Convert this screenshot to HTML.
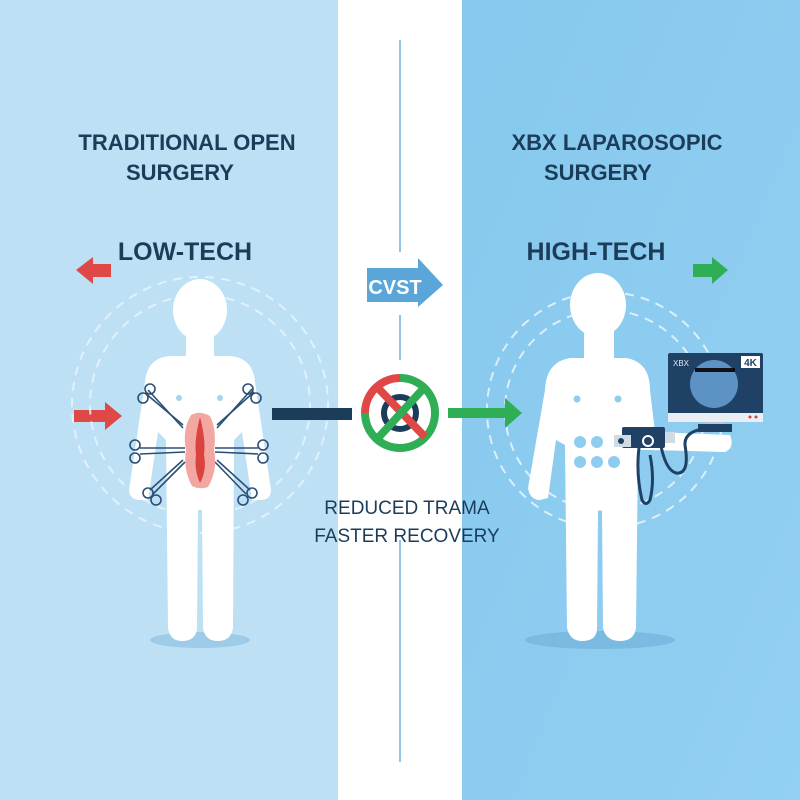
<!DOCTYPE html>
<html><head><meta charset="utf-8"><style>
html,body{margin:0;padding:0;width:800px;height:800px;overflow:hidden}
</style></head><body>
<svg width="800" height="800" viewBox="0 0 800 800" xmlns="http://www.w3.org/2000/svg" font-family="Liberation Sans, sans-serif">
<defs>
<linearGradient id="rg" x1="0" y1="0" x2="1" y2="1"><stop offset="0" stop-color="#86c8ee"/><stop offset="1" stop-color="#93d0f1"/></linearGradient>
</defs>
<rect width="800" height="800" fill="#fff"/>
<rect x="0" y="0" width="338" height="800" fill="#bde0f5"/>
<rect x="462" y="0" width="338" height="800" fill="url(#rg)"/>
<g stroke="#6fb0dc" stroke-width="1.5">
<line x1="400" y1="40" x2="400" y2="252"/>
<line x1="400" y1="315" x2="400" y2="360"/>
<line x1="400" y1="540" x2="400" y2="762"/>
</g>

<g fill="#1c3d5a" font-weight="bold" text-anchor="middle">
<text x="187" y="150" font-size="22">TRADITIONAL OPEN</text>
<text x="180" y="180" font-size="22">SURGERY</text>
<text x="185" y="260" font-size="25">LOW-TECH</text>
<text x="617" y="150" font-size="22">XBX LAPAROSOPIC</text>
<text x="598" y="180" font-size="22">SURGERY</text>
<text x="596" y="260" font-size="25">HIGH-TECH</text>
<text x="407" y="514" font-size="19" font-weight="normal">REDUCED TRAMA</text>
<text x="407" y="542" font-size="19" font-weight="normal">FASTER RECOVERY</text>
</g>

<polygon points="76,270 93,257 93,264 111,264 111,277 93,277 93,284" fill="#e04848"/>
<polygon points="74,410 105,410 105,402 122,416 105,430 105,422 74,422" fill="#e04848"/>
<polygon points="693,264 712,264 712,257 728,270 712,284 712,277 693,277" fill="#2fae55"/>

<g fill="none" stroke="#e6f3fb" stroke-width="2" stroke-dasharray="9 7" opacity="0.9">
<circle cx="200" cy="405" r="128"/><circle cx="200" cy="405" r="110"/>
<circle cx="605" cy="410" r="118"/><circle cx="605" cy="410" r="100"/>
</g>

<ellipse cx="200" cy="640" rx="50" ry="8" fill="#9ecbe8"/>
<g fill="#fff">
<ellipse cx="200" cy="310" rx="27" ry="31"/>
<rect x="186" y="330" width="28" height="32"/>
<path d="M170 356 Q147 358 145 382 L129 490 Q130 500 140 500 L148 500 L158 432 L166 440 L168 628 Q170 641 182 641 Q196 641 197 628 L198 510 L202 510 L203 628 Q205 641 218 641 Q231 641 233 628 L234 440 L242 432 L252 500 L260 500 Q271 500 271 490 L255 382 Q253 358 230 356 Z"/>
</g>
<circle cx="179" cy="398" r="3" fill="#a6d4ef"/><circle cx="220" cy="398" r="3" fill="#a6d4ef"/>
<g stroke="#2b4f75" stroke-width="1.6" fill="none">
<line x1="183" y1="425" x2="145" y2="393"/><line x1="183" y1="428" x2="148" y2="390"/>
<circle cx="143" cy="398" r="5"/><circle cx="150" cy="389" r="5"/>
<line x1="217" y1="425" x2="254" y2="392"/><line x1="217" y1="428" x2="252" y2="389"/>
<circle cx="248" cy="389" r="5"/><circle cx="256" cy="398" r="5"/>
<line x1="185" y1="448" x2="140" y2="448"/><line x1="185" y1="452" x2="140" y2="454"/>
<circle cx="135" cy="445" r="5"/><circle cx="135" cy="458" r="5"/>
<line x1="215" y1="448" x2="258" y2="448"/><line x1="215" y1="452" x2="258" y2="454"/>
<circle cx="263" cy="445" r="5"/><circle cx="263" cy="458" r="5"/>
<line x1="185" y1="462" x2="153" y2="494"/><line x1="183" y1="460" x2="150" y2="490"/>
<circle cx="148" cy="493" r="5"/><circle cx="156" cy="500" r="5"/>
<line x1="215" y1="462" x2="246" y2="494"/><line x1="217" y1="460" x2="250" y2="490"/>
<circle cx="252" cy="493" r="5"/><circle cx="243" cy="500" r="5"/>
</g>
<path d="M191 415 Q200 410 210 416 Q217 430 214 450 Q218 470 208 487 Q200 490 192 486 Q183 470 186 450 Q182 430 191 415 Z" fill="#f2a7a2"/>
<path d="M200 417 Q206 440 204 455 Q207 470 200 483 Q194 470 196 455 Q194 440 200 417 Z" fill="#d9423e"/>

<rect x="272" y="408" width="80" height="12" fill="#1c3d5a"/>
<polygon points="448,408 505,408 505,398 522,413 505,428 505,418 448,418" fill="#2fae55"/>
<polygon points="367,268 418,268 418,258 443,285 418,307 418,302 367,302" fill="#5aa6d8"/>
<text x="395" y="294" font-size="20" font-weight="bold" fill="#fff" text-anchor="middle">CVST</text>
<circle cx="400" cy="413" r="16" fill="none" stroke="#1c3d5a" stroke-width="6"/>
<path d="M400 378 A35 35 0 0 0 365 413" fill="none" stroke="#e04848" stroke-width="8"/>
<path d="M400 378 A35 35 0 1 1 365 413" fill="none" stroke="#2fae55" stroke-width="8"/>
<line x1="378" y1="388" x2="425" y2="437" stroke="#e04848" stroke-width="8"/>
<line x1="423" y1="389" x2="378" y2="438" stroke="#2fae55" stroke-width="8"/>

<ellipse cx="600" cy="640" rx="75" ry="9" fill="#7bbbe2"/>
<g fill="#fff">
<ellipse cx="598" cy="305" rx="28" ry="32"/>
<rect x="584" y="325" width="30" height="38"/>
<path d="M570 358 Q546 362 545 390 L528 488 Q530 500 540 500 L548 498 L556 440 L565 445 L567 628 Q570 641 582 641 Q597 641 597 628 L598 510 L602 510 L603 628 Q606 641 620 641 Q634 641 636 628 L638 450 L640 450 L650 450 L725 452 Q735 448 730 435 L655 432 L650 390 Q650 362 626 358 Z"/>
</g>
<g fill="#8ecdf0">
<circle cx="577" cy="399" r="3.5"/><circle cx="618" cy="399" r="3.5"/>
<circle cx="580" cy="442" r="6"/><circle cx="597" cy="442" r="6"/>
<circle cx="580" cy="462" r="6"/><circle cx="597" cy="462" r="6"/><circle cx="614" cy="462" r="6"/>
</g>
<rect x="668" y="353" width="95" height="62" rx="2" fill="#1f4166"/>
<rect x="668" y="413" width="95" height="9" fill="#e8eef3"/>
<circle cx="750" cy="417" r="1.5" fill="#d04040"/><circle cx="756" cy="417" r="1.5" fill="#d04040"/>
<circle cx="714" cy="384" r="24" fill="#5d93c4"/>
<rect x="695" y="368" width="40" height="4" fill="#111"/>
<text x="673" y="366" font-size="8" fill="#dfe8f0">XBX</text>
<rect x="741" y="356" width="19" height="12" fill="#fff"/>
<text x="750.5" y="366" font-size="10" font-weight="bold" fill="#1f4166" text-anchor="middle">4K</text>
<rect x="706" y="422" width="18" height="6" fill="#b9c6d2"/>
<rect x="698" y="424" width="34" height="8" fill="#1f4166"/>
<path d="M640 441 Q635 470 642 500 Q646 507 650 500 Q655 480 650 455 M660 441 Q665 470 676 473 Q690 475 685 445 Q684 430 710 428" fill="none" stroke="#1f4166" stroke-width="3"/>
<rect x="622" y="427" width="43" height="21" rx="2" fill="#1f4166"/>
<rect x="614" y="435" width="17" height="12" fill="#d0dbe4"/>
<circle cx="621" cy="441" r="3" fill="#1f4166"/>
<circle cx="648" cy="441" r="5" fill="none" stroke="#fff" stroke-width="2"/>
<rect x="665" y="432" width="10" height="11" fill="#d0dbe4"/>
</svg>
</body></html>
